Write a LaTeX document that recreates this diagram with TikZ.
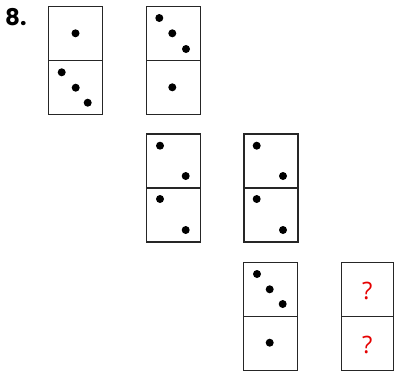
\documentclass[tikz,border=0pt]{standalone}
\usepackage{fontspec}
\setmainfont{Liberation Sans}
\newfontfamily\numfont{Poppins}
\newfontfamily\qfont{Open Sans}
\begin{document}
\begin{tikzpicture}[x=1pt,y=-1pt,
  half/.style={draw=black!85,line width=1.3pt,minimum width=54pt,minimum height=54pt,inner sep=0pt,anchor=north west,rectangle},
  pip/.style={circle,fill=black,inner sep=0pt,minimum size=8pt},
  qmark/.style={text=red!90!black,font=\qfont\fontsize{24}{24}\selectfont}]
\useasboundingbox (0,0) rectangle (394,373);
\node[font=\numfont\bfseries\fontsize{23}{23}\selectfont,anchor=base west,inner sep=0pt] (num) at (5,25.5) {8.};
% domino 1
\node[half] (d1t) at (48,6) {};
\node[half] (d1b) at (48,60) {};
\node[pip] (p1a) at (75.5,33.3) {};
\node[pip] (p1b) at (61.7,72.3) {};
\node[pip] (p1c) at (75.7,87.7) {};
\node[pip] (p1d) at (87.7,102.7) {};
% domino 2
\node[half] (d2t) at (146,6) {};
\node[half] (d2b) at (146,60) {};
\node[pip] (p2a) at (159.3,18) {};
\node[pip] (p2b) at (172.3,33.3) {};
\node[pip] (p2c) at (186,49) {};
\node[pip] (p2d) at (172.3,87.3) {};
% domino 3
\node[half] (d3t) at (145.5,133.3) {};
\node[half] (d3b) at (145.5,187.3) {};
\node[pip] (p3a) at (160,145.7) {};
\node[pip] (p3b) at (185.7,176) {};
\node[pip] (p3c) at (160,199) {};
\node[pip] (p3d) at (185.7,230) {};
% domino 4
\node[half] (d4t) at (243.3,133.3) {};
\node[half] (d4b) at (243.3,187.3) {};
\node[pip] (p4a) at (256.7,145.7) {};
\node[pip] (p4b) at (283,176) {};
\node[pip] (p4c) at (256.7,199) {};
\node[pip] (p4d) at (283,230) {};
% domino 5
\node[half] (d5t) at (243,262) {};
\node[half] (d5b) at (243,316) {};
\node[pip] (p5a) at (257,274) {};
\node[pip] (p5b) at (269.7,289.3) {};
\node[pip] (p5c) at (282.7,304) {};
\node[pip] (p5d) at (269.7,342.7) {};
% domino 6
\node[half,minimum width=52pt] (d6t) at (340.5,262) {};
\node[half,minimum width=52pt] (d6b) at (340.5,316) {};
\node[qmark] (q1) at ([yshift=-1.5pt]d6t.center) {?};
\node[qmark] (q2) at ([yshift=-1.5pt]d6b.center) {?};
\end{tikzpicture}
\end{document}
